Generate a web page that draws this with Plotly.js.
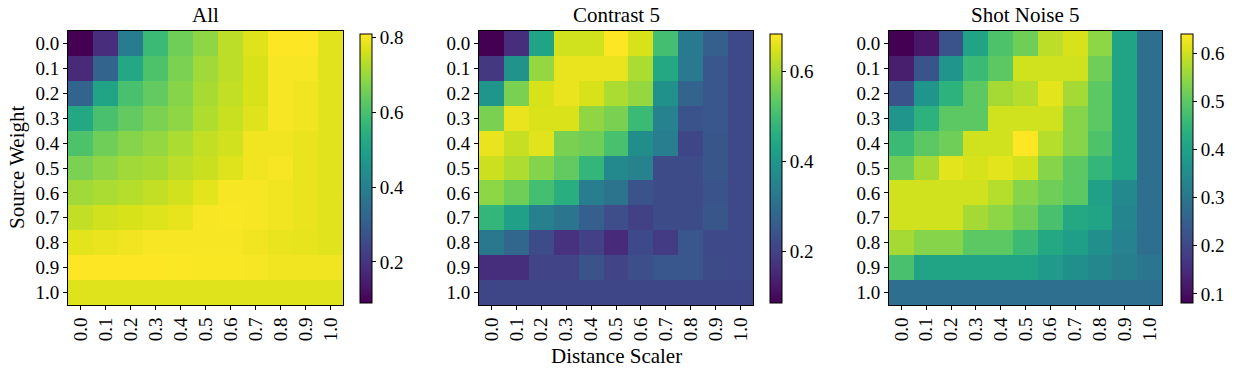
<!DOCTYPE html>
<html>
<head>
<meta charset="utf-8">
<script src="https://cdn.plot.ly/plotly-3.0.1.min.js"></script>
<style>
  html, body { margin: 0; padding: 0; background: #fff; }
  #chart { width: 1237px; height: 373px; }
</style>
</head>
<body>
<div id="chart"></div>
<script>
// axis labels
const scalers = ['0.0', '0.1', '0.2', '0.3', '0.4', '0.5', '0.6', '0.7', '0.8', '0.9', '1.0'];
const weights = ['0.0', '0.1', '0.2', '0.3', '0.4', '0.5', '0.6', '0.7', '0.8', '0.9', '1.0'];

// rows = source weight 0.0 .. 1.0, columns = distance scaler 0.0 .. 1.0
const allScores = [
  [0.090, 0.180, 0.390, 0.580, 0.652, 0.688, 0.738, 0.774, 0.810, 0.810, 0.778],
  [0.176, 0.320, 0.522, 0.608, 0.666, 0.709, 0.738, 0.767, 0.803, 0.803, 0.778],
  [0.320, 0.508, 0.601, 0.637, 0.680, 0.716, 0.745, 0.767, 0.803, 0.796, 0.778],
  [0.522, 0.601, 0.637, 0.666, 0.688, 0.724, 0.752, 0.774, 0.803, 0.796, 0.778],
  [0.608, 0.652, 0.680, 0.695, 0.720, 0.745, 0.760, 0.796, 0.796, 0.788, 0.778],
  [0.666, 0.688, 0.709, 0.716, 0.738, 0.752, 0.774, 0.796, 0.803, 0.788, 0.778],
  [0.709, 0.720, 0.731, 0.745, 0.760, 0.781, 0.803, 0.803, 0.796, 0.788, 0.778],
  [0.745, 0.760, 0.767, 0.774, 0.785, 0.803, 0.806, 0.803, 0.796, 0.788, 0.778],
  [0.781, 0.788, 0.796, 0.803, 0.803, 0.803, 0.803, 0.796, 0.788, 0.785, 0.778],
  [0.810, 0.810, 0.810, 0.810, 0.808, 0.806, 0.806, 0.803, 0.796, 0.796, 0.796],
  [0.774, 0.774, 0.774, 0.774, 0.774, 0.774, 0.774, 0.774, 0.774, 0.774, 0.774]
];

const contrastScores = [
  [0.086, 0.164, 0.433, 0.642, 0.642, 0.684, 0.648, 0.505, 0.331, 0.265, 0.218],
  [0.182, 0.391, 0.588, 0.666, 0.666, 0.666, 0.609, 0.445, 0.331, 0.247, 0.218],
  [0.397, 0.564, 0.648, 0.666, 0.648, 0.609, 0.588, 0.385, 0.277, 0.247, 0.218],
  [0.564, 0.666, 0.651, 0.651, 0.585, 0.564, 0.493, 0.349, 0.241, 0.247, 0.218],
  [0.666, 0.633, 0.657, 0.564, 0.552, 0.511, 0.379, 0.337, 0.212, 0.244, 0.218],
  [0.639, 0.612, 0.573, 0.540, 0.481, 0.367, 0.352, 0.224, 0.224, 0.244, 0.218],
  [0.582, 0.552, 0.505, 0.463, 0.337, 0.313, 0.241, 0.224, 0.224, 0.241, 0.218],
  [0.481, 0.427, 0.343, 0.319, 0.265, 0.227, 0.200, 0.224, 0.224, 0.244, 0.218],
  [0.325, 0.283, 0.224, 0.170, 0.200, 0.158, 0.218, 0.188, 0.247, 0.218, 0.218],
  [0.164, 0.164, 0.206, 0.206, 0.241, 0.206, 0.230, 0.247, 0.247, 0.224, 0.218],
  [0.212, 0.212, 0.212, 0.212, 0.212, 0.212, 0.212, 0.212, 0.212, 0.212, 0.212]
];

const noiseScores = [
  [0.081, 0.115, 0.226, 0.405, 0.484, 0.517, 0.584, 0.606, 0.545, 0.405, 0.282],
  [0.126, 0.226, 0.372, 0.461, 0.500, 0.601, 0.601, 0.601, 0.517, 0.405, 0.282],
  [0.226, 0.372, 0.439, 0.500, 0.565, 0.578, 0.618, 0.565, 0.500, 0.405, 0.282],
  [0.372, 0.439, 0.500, 0.500, 0.601, 0.601, 0.601, 0.539, 0.500, 0.405, 0.282],
  [0.461, 0.500, 0.517, 0.601, 0.601, 0.640, 0.578, 0.539, 0.484, 0.405, 0.282],
  [0.517, 0.565, 0.618, 0.606, 0.618, 0.601, 0.539, 0.500, 0.450, 0.405, 0.282],
  [0.601, 0.601, 0.601, 0.601, 0.578, 0.539, 0.517, 0.500, 0.400, 0.344, 0.282],
  [0.601, 0.601, 0.601, 0.565, 0.545, 0.517, 0.478, 0.416, 0.405, 0.333, 0.282],
  [0.565, 0.539, 0.539, 0.500, 0.500, 0.461, 0.416, 0.394, 0.360, 0.327, 0.282],
  [0.478, 0.405, 0.405, 0.405, 0.405, 0.405, 0.383, 0.360, 0.338, 0.321, 0.299],
  [0.282, 0.282, 0.282, 0.282, 0.282, 0.282, 0.282, 0.282, 0.282, 0.282, 0.282]
];

const panelTitles = ['All', 'Contrast 5', 'Shot Noise 5'];
const colorRanges = [[0.09, 0.81], [0.086, 0.684], [0.081, 0.64]];
const colorTicks = [[0.2, 0.4, 0.6, 0.8], [0.2, 0.4, 0.6], [0.1, 0.2, 0.3, 0.4, 0.5, 0.6]];

const W = 1237, H = 373;
const font = 'Liberation Serif, Times New Roman, serif';
const tickSize = 19, labelSize = 21;
// pixel boxes of the three heatmaps and their colorbars
const plotLeft = [68, 479, 889];
const plotRight = [343, 753, 1162];
const cbarLeft = [360, 770, 1181];
const plotTop = 31, plotBottom = 305;

const px = x => x / W;
const py = y => 1 - y / H;

const grids = [allScores, contrastScores, noiseScores];
const traces = grids.map((z, i) => ({
  type: 'heatmap',
  x: scalers,
  y: weights,
  z: z,
  xaxis: i === 0 ? 'x' : 'x' + (i + 1),
  yaxis: i === 0 ? 'y' : 'y' + (i + 1),
  colorscale: 'Viridis',
  zmin: colorRanges[i][0],
  zmax: colorRanges[i][1],
  colorbar: {
    x: px(cbarLeft[i]),
    xanchor: 'left',
    xref: 'paper',
    y: py((34 + 303) / 2),
    yanchor: 'middle',
    len: (303 - 34) / H,
    lenmode: 'fraction',
    thickness: 12,
    xpad: 0,
    ypad: 0,
    outlinewidth: 1,
    outlinecolor: '#000',
    tickvals: colorTicks[i],
    ticktext: colorTicks[i].map(v => v.toFixed(1)),
    ticks: 'outside',
    ticklen: 4,
    tickcolor: '#000',
    tickfont: {family: font, size: tickSize, color: '#000'}
  }
}));

const layout = {
  width: W,
  height: H,
  margin: {l: 0, r: 0, t: 0, b: 0},
  paper_bgcolor: '#fff',
  plot_bgcolor: '#fff',
  font: {family: font, size: tickSize, color: '#000'},
  showlegend: false,
  annotations: []
};

for (let i = 0; i < 3; i++) {
  const sx = i === 0 ? '' : String(i + 1);
  layout['xaxis' + sx] = {
    domain: [px(plotLeft[i]), px(plotRight[i])],
    anchor: 'y' + sx,
    type: 'category',
    tickangle: -90,
    ticks: 'outside',
    ticklen: 4,
    tickcolor: '#000',
    showline: true,
    mirror: true,
    linecolor: '#000',
    linewidth: 1,
    showgrid: false,
    zeroline: false,
    tickfont: {family: font, size: tickSize, color: '#000'}
  };
  layout['yaxis' + sx] = {
    domain: [py(plotBottom), py(plotTop)],
    anchor: 'x' + sx,
    type: 'category',
    autorange: 'reversed',
    ticks: 'outside',
    ticklen: 4,
    tickcolor: '#000',
    showline: true,
    mirror: true,
    linecolor: '#000',
    linewidth: 1,
    showgrid: false,
    zeroline: false,
    tickfont: {family: font, size: tickSize, color: '#000'}
  };
  layout.annotations.push({
    text: panelTitles[i],
    x: px((plotLeft[i] + plotRight[i]) / 2),
    y: py(15),
    xref: 'paper', yref: 'paper',
    xanchor: 'center', yanchor: 'middle',
    showarrow: false,
    font: {family: font, size: labelSize, color: '#000'}
  });
}

// shared axis titles
layout.annotations.push({
  text: 'Source Weight',
  x: px(17), y: py(168),
  xref: 'paper', yref: 'paper',
  xanchor: 'center', yanchor: 'middle',
  textangle: -90,
  showarrow: false,
  font: {family: font, size: labelSize, color: '#000'}
});
layout.annotations.push({
  text: 'Distance Scaler',
  x: px(616), y: py(356),
  xref: 'paper', yref: 'paper',
  xanchor: 'center', yanchor: 'middle',
  showarrow: false,
  font: {family: font, size: labelSize, color: '#000'}
});

Plotly.newPlot('chart', traces, layout, {staticPlot: true});
</script>
</body>
</html>
